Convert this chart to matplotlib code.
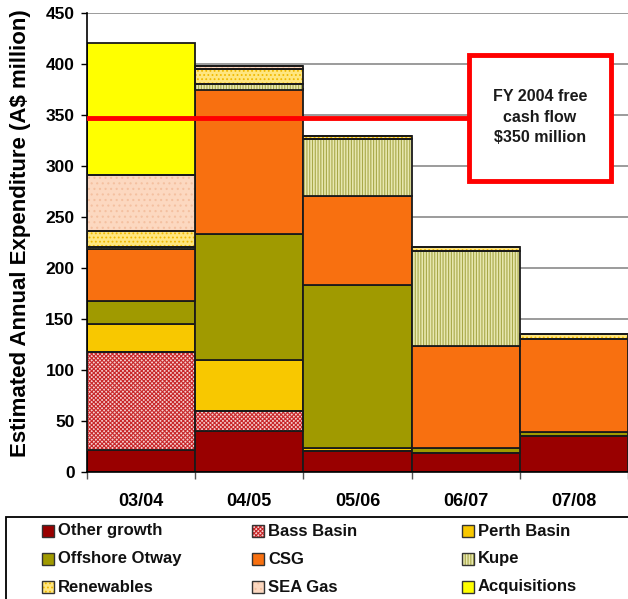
import matplotlib
matplotlib.use("Agg")
import matplotlib.pyplot as plt
from matplotlib.patches import Rectangle
import numpy as np

plt.rcParams['font.family'] = ['Liberation Sans', 'DejaVu Sans']
plt.rcParams['font.weight'] = 'bold'
plt.rcParams['hatch.linewidth'] = 0.8

categories = ['03/04', '04/05', '05/06', '06/07', '07/08']

# stacked series, bottom to top
other_growth = [22, 40, 21, 19, 35]
bass_basin = [96, 20, 0, 0, 0]
perth_basin = [27, 50, 2.5, 0, 0]
offshore_otway = [23, 123, 160, 5, 4]
csg = [51, 142, 87, 99.5, 91]
kupe = [2, 5, 56, 93, 0]
renewables = [15, 15, 3, 4, 5]
sea_gas = [55, 3, 0, 0, 0]
acquisitions = [130, 0, 0, 0, 0]

free_cash_flow = 347
box_text = 'FY 2004 free\ncash flow\n$350 million'

series = [
    ('Other growth', other_growth, '#990000', None, None),
    ('Bass Basin', bass_basin, '#F6D0D0', 'xxxxxxxx', '#C8282A'),
    ('Perth Basin', perth_basin, '#F8C800', None, None),
    ('Offshore Otway', offshore_otway, '#A09A00', None, None),
    ('CSG', csg, '#F87010', None, None),
    ('Kupe', kupe, '#E8E8B0', '||||||', '#A8A848'),
    ('Renewables', renewables, '#FFE680', '....', '#F0B800'),
    ('SEA Gas', sea_gas, '#FCD8C0', '...', '#F4C0A0'),
    ('Acquisitions', acquisitions, '#FFFF00', None, None),
]

W, H = 628, 599
fig = plt.figure(figsize=(W / 100, H / 100), dpi=100)
ax = fig.add_axes([87 / W, 1 - 472 / H, 541 / W, 459 / H])

x = np.arange(len(categories))
bottom = np.zeros(len(categories))
for name, vals, color, hatch, hcolor in series:
    vals = np.array(vals, dtype=float)
    if hatch:
        ax.bar(x, vals, width=1.0, bottom=bottom, color=color, hatch=hatch,
               edgecolor=hcolor, linewidth=0, zorder=2)
        ax.bar(x, vals, width=1.0, bottom=bottom, fill=False,
               edgecolor='#1a1a1a', linewidth=1.3, zorder=3)
    else:
        ax.bar(x, vals, width=1.0, bottom=bottom, color=color,
               edgecolor='#1a1a1a', linewidth=1.3, zorder=2)
    bottom += vals

ax.set_xlim(-0.5, -0.5 + 541 / 109)
ax.set_ylim(0, 450)
ax.set_yticks(np.arange(0, 451, 50))
ax.yaxis.grid(True, color='#808080', linewidth=1.1, zorder=0)
ax.set_axisbelow(True)
for s in ['top', 'right']:
    ax.spines[s].set_visible(False)
ax.spines['left'].set_linewidth(1.2)
ax.spines['bottom'].set_linewidth(1.2)

ax.set_xticks(x)
ax.set_xticklabels(categories, fontsize=13, fontweight='bold')
ax.set_xticks(np.arange(-0.5, len(categories), 1.0), minor=True)
ax.tick_params(axis='x', which='major', length=0, pad=15)
ax.tick_params(axis='x', which='minor', length=5, width=1, color='#555555')
ax.tick_params(axis='y', length=4, width=1, labelsize=12.5, pad=5)
ax.set_ylabel('Estimated Annual Expenditure (A$ million)', fontsize=16,
              fontweight='bold')
ax.yaxis.set_label_coords(-0.104, 0.52)

# free cash flow line and callout box
ax.axhline(free_cash_flow, xmin=0, xmax=(469 - 87) / 541, color='#FF0000',
           linewidth=3.5, zorder=5)
ax.add_patch(Rectangle(((469 - 87) / 541, (472 - 181) / 459), 142 / 541, 126 / 459,
                       transform=ax.transAxes, facecolor='white', edgecolor='#FF0000',
                       linewidth=3.5, zorder=6, clip_on=False))
ax.text((540 - 87) / 541, (472 - 117) / 459, box_text, transform=ax.transAxes,
        ha='center', va='center', fontsize=11.5, fontweight='bold',
        linespacing=1.45, color='#1a1a1a', zorder=7)

# legend box drawn by hand to match the Excel layout
fig.add_artist(Rectangle((6 / W, (H - 620) / H), 640 / W, 103 / H,
                         transform=fig.transFigure, facecolor='white',
                         edgecolor='black', linewidth=1.3, clip_on=False))
col_x = [42, 252, 462]
row_y = [531, 559, 587]
sq = 12
for i, (name, vals, color, hatch, hcolor) in enumerate(series):
    px = col_x[i % 3]
    py = row_y[i // 3]
    rect_xy = (px / W, (H - py - sq / 2) / H)
    if hatch:
        fig.add_artist(Rectangle(rect_xy, sq / W, sq / H, transform=fig.transFigure,
                                 facecolor=color, hatch=hatch, edgecolor=hcolor,
                                 linewidth=0))
        fig.add_artist(Rectangle(rect_xy, sq / W, sq / H, transform=fig.transFigure,
                                 fill=False, edgecolor='#333333', linewidth=1))
    else:
        fig.add_artist(Rectangle(rect_xy, sq / W, sq / H, transform=fig.transFigure,
                                 facecolor=color, edgecolor='#333333', linewidth=1))
    fig.text((px + sq + 4) / W, (H - py) / H, name, ha='left', va='center',
             fontsize=12, fontweight='bold', color='#111111')

fig.savefig('out.png', dpi=100)
